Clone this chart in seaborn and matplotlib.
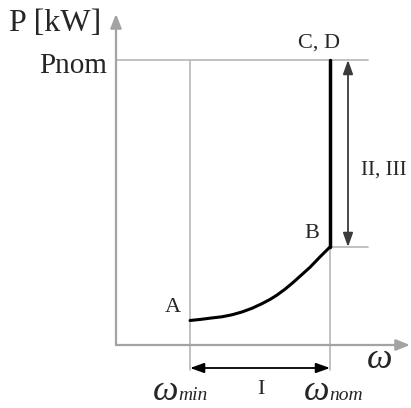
import matplotlib
matplotlib.use("Agg")
import matplotlib.pyplot as plt
import seaborn as sns
import pandas as pd

sns.set_theme(style="white")
plt.rcParams["font.family"] = ["Liberation Serif", "DejaVu Serif"]

# Operating characteristic P(omega), normalised to omega_nom = 1 and P_nom = 1
OMEGA_MIN = 0.346
OMEGA_NOM = 1.0
P_NOM = 1.0
P_B = 0.344

# Region I: power rising with speed from A (omega_min) to B (omega_nom)
omega_curve = [0.346, 0.397, 0.449, 0.495, 0.542, 0.589, 0.636, 0.682,
               0.720, 0.752, 0.790, 0.827, 0.864, 0.907, 0.953, 1.0]
power_curve = [0.086, 0.090, 0.095, 0.099, 0.106, 0.116, 0.129, 0.145,
               0.160, 0.175, 0.196, 0.219, 0.244, 0.273, 0.309, 0.344]

# Regions II, III: constant speed, power rising from B up to C, D
omega_vert = [OMEGA_NOM, OMEGA_NOM]
power_vert = [P_B, P_NOM]

W, H = 411, 408
fig = plt.figure(figsize=(W / 100, H / 100), dpi=100)
ax = fig.add_axes([0, 0, 1, 1])

# scale: origin at pixel (116, 345), 214 px per unit omega, 285 px per unit P
X0, Y0, SX, SY = 116, 345, 214, 285
XLIM = (-X0 / SX, (W - X0) / SX)
YLIM = (-(H - Y0) / SY, Y0 / SY)


def at(px, py):
    """Pixel position (from top-left) to data coordinates, for label placement."""
    return (px - X0) / SX, (Y0 - py) / SY


AXIS_GREY = "#a3a3a3"
GUIDE_GREY = "#bcbcbc"

x_end = at(410, 0)[0]
y_top = at(0, 14)[1]
guide_right = at(368, 0)[0]
guide_low = at(0, 370)[1]
arrow_y = at(0, 368)[1]
arrow_x = at(348, 0)[0]

# guide lines
ax.plot([0, guide_right], [P_NOM, P_NOM], color=GUIDE_GREY, lw=1.3, zorder=1)
ax.plot([OMEGA_NOM, guide_right], [P_B, P_B], color=GUIDE_GREY, lw=1.3, zorder=1)
ax.plot([OMEGA_MIN, OMEGA_MIN], [guide_low, P_NOM], color=GUIDE_GREY, lw=1.3, zorder=1)
ax.plot([OMEGA_NOM, OMEGA_NOM], [guide_low, P_B], color=GUIDE_GREY, lw=1.3, zorder=1)

# axes with arrow heads
ax.annotate("", xy=(0, y_top), xytext=(0, 0),
            arrowprops=dict(arrowstyle="-|>,head_length=0.7,head_width=0.28",
                            color=AXIS_GREY, lw=1.6, shrinkA=0, shrinkB=0))
ax.annotate("", xy=(x_end, 0), xytext=(0, 0),
            arrowprops=dict(arrowstyle="-|>,head_length=0.7,head_width=0.28",
                            color=AXIS_GREY, lw=1.6, shrinkA=0, shrinkB=0))

# characteristic
df_curve = pd.DataFrame({"omega": omega_curve, "P": power_curve})
df_vert = pd.DataFrame({"omega": omega_vert, "P": power_vert})
sns.lineplot(data=df_curve, x="omega", y="P", sort=False, estimator=None,
             color="black", lw=2.2, ax=ax, zorder=3)
sns.lineplot(data=df_vert, x="omega", y="P", sort=False, estimator=None,
             color="black", lw=2.5, ax=ax, zorder=3)
ax.set_xlim(*XLIM)
ax.set_ylim(*YLIM)
ax.set_axis_off()

# range arrows
ax.annotate("", xy=(OMEGA_NOM, arrow_y), xytext=(OMEGA_MIN, arrow_y),
            arrowprops=dict(arrowstyle="<|-|>,head_length=0.7,head_width=0.25",
                            color="black", lw=1.3, shrinkA=0, shrinkB=0))
ax.annotate("", xy=(arrow_x, P_NOM), xytext=(arrow_x, P_B),
            arrowprops=dict(arrowstyle="<|-|>,head_length=0.7,head_width=0.25",
                            color="#3a3a3a", lw=1.3, shrinkA=0, shrinkB=0))

# labels
ax.text(*at(55, 31), "P [kW]", fontsize=23, ha="center", va="baseline")
ax.text(*at(107, 73), "Pnom", fontsize=21, ha="right", va="baseline")
ax.text(*at(319, 48), "C, D", fontsize=16, ha="center", va="baseline")
ax.text(*at(384, 175), "II, III", fontsize=15, ha="center", va="baseline")
ax.text(*at(312, 238), "B", fontsize=16, ha="center", va="baseline")
ax.text(*at(173, 312), "A", fontsize=16, ha="center", va="baseline")
ax.text(*at(380, 368), "ω", fontsize=26, style="italic", ha="center", va="baseline")
ax.text(*at(261, 394), "I", fontsize=16, ha="center", va="baseline")

# omega_min / omega_nom: large italic omega followed by smaller italic suffix
ax.text(*at(153, 400), "ω", fontsize=26, style="italic", ha="left", va="baseline")
ax.text(*at(178, 400), "min", fontsize=14, style="italic", ha="left", va="baseline")
ax.text(*at(304, 400), "ω", fontsize=26, style="italic", ha="left", va="baseline")
ax.text(*at(329, 400), "nom", fontsize=14, style="italic", ha="left", va="baseline")

fig.savefig("out.png", dpi=100)
